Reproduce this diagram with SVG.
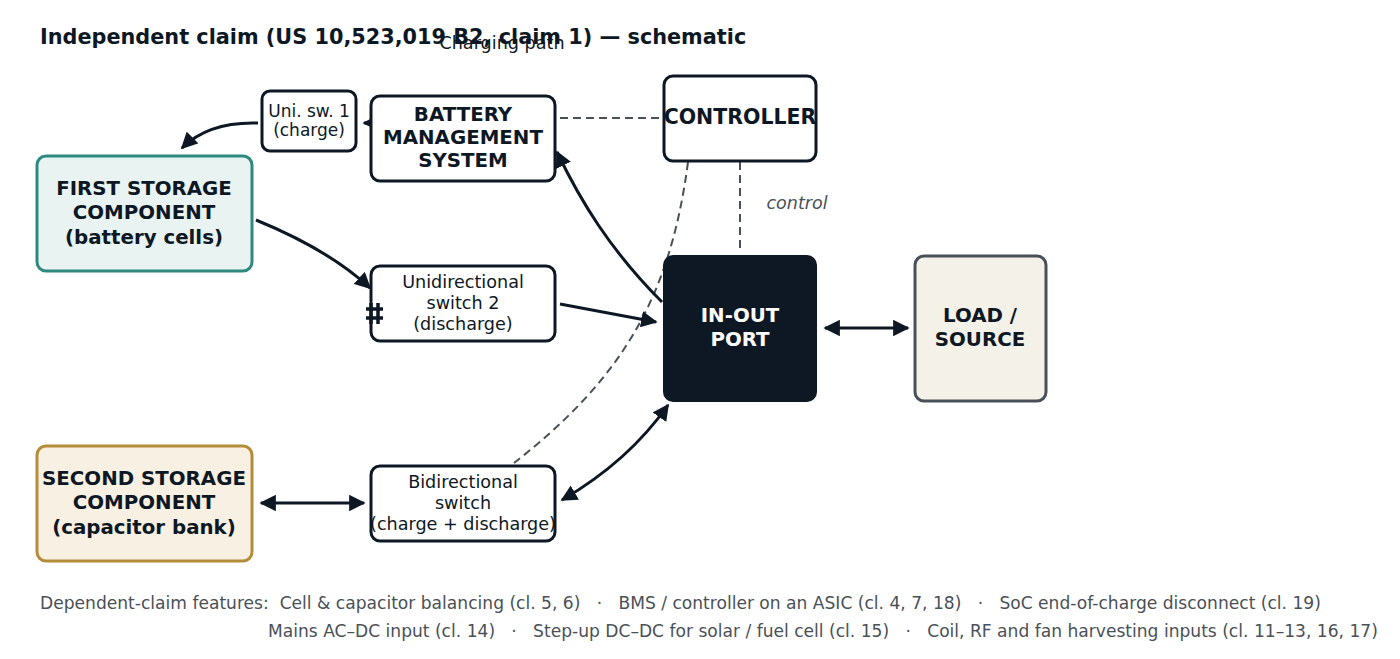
<svg xmlns="http://www.w3.org/2000/svg" width="1400" height="659" viewBox="0 0 1400 659">
<style>
text{font-family:"DejaVu Sans","Noto Sans",sans-serif;fill:#0d1824;text-anchor:middle;white-space:pre}
.b{font-weight:bold;font-size:19.8px}
.s{font-size:17.6px}
.box{fill:#fff;stroke:#0d1824;stroke-width:3}
.c{fill:none;stroke:#0d1824;stroke-width:3}
.d{fill:none;stroke:#4a5058;stroke-width:2;stroke-dasharray:8 5}
.f{font-size:17.1px;fill:#4a5058;text-anchor:start}
</style>
<defs>
<marker id="a" viewBox="0 0 10 10" refX="9" refY="5" markerWidth="5.5" markerHeight="5.5" orient="auto-start-reverse"><path d="M0,0L10,5L0,10z" fill="#0d1824"/></marker>
</defs>
<rect width="1400" height="659" fill="#fff"/>
<text x="40" y="44" style="text-anchor:start;font-weight:bold;font-size:20.8px">Independent claim (US 10,523,019 B2, claim 1) — schematic</text>
<text x="502" y="49" class="s">Charging path</text>
<g id="connectors">
<path class="d" d="M560,118H663"/>
<path class="d" d="M740,162V253"/>
<path class="d" d="M688,162C670,300 620,380 514,463"/>
<path class="c" d="M258,123C225,122 200,130 182,148" marker-end="url(#a)"/>
<path class="c" d="M371,123H364" marker-end="url(#a)"/>
<path class="c" d="M662,302C610,250 580,200 557,152" marker-end="url(#a)"/>
<path class="c" d="M256,220C300,238 340,260 370,288" marker-end="url(#a)"/>
<path class="c" d="M560,304L656,322" marker-end="url(#a)"/>
<path class="c" d="M668,405C640,445 605,475 562,500" marker-start="url(#a)" marker-end="url(#a)"/>
<path class="c" d="M261,503H364" marker-start="url(#a)" marker-end="url(#a)"/>
<path class="c" d="M825,328H908" marker-start="url(#a)" marker-end="url(#a)"/>
<text x="797" y="209" style="font-style:italic;font-size:17.5px;fill:#4a5058">control</text>
</g>
<g id="first"><rect x="37" y="156" width="215" height="115" rx="9" fill="#e9f3f2" stroke="#2e8a80" stroke-width="3"/>
<text class="b" x="144" y="195">FIRST STORAGE</text><text class="b" x="144" y="219">COMPONENT</text><text class="b" x="144" y="244">(battery cells)</text></g>
<g id="second"><rect x="37" y="446" width="215" height="115" rx="9" fill="#f8f0e2" stroke="#b58c3a" stroke-width="3"/>
<text class="b" x="144" y="485">SECOND STORAGE</text><text class="b" x="144" y="509">COMPONENT</text><text class="b" x="144" y="534">(capacitor bank)</text></g>
<g id="sw1"><rect class="box" x="262" y="91" width="94" height="60" rx="8"/>
<text class="s" x="309" y="117" style="font-size:17px">Uni. sw. 1</text><text class="s" x="309" y="136" style="font-size:17px">(charge)</text></g>
<g id="bms"><rect class="box" x="371" y="96" width="184" height="85" rx="9"/>
<text class="b" x="463" y="121">BATTERY</text><text class="b" x="463" y="144">MANAGEMENT</text><text class="b" x="463" y="167">SYSTEM</text></g>
<g id="ctrl"><rect class="box" x="664" y="76" width="152" height="85" rx="9"/>
<text class="b" x="740" y="124" style="font-size:20.5px">CONTROLLER</text></g>
<g id="sw2"><rect class="box" x="371" y="266" width="184" height="75" rx="9"/>
<text class="s" x="463" y="288">Unidirectional</text><text class="s" x="463" y="309">switch 2</text><text class="s" x="463" y="330">(discharge)</text>
<path d="M366,309H383M366,318H383M371,303V324M378,303V324" stroke="#0d1824" stroke-width="3.5"/></g>
<g id="bidir"><rect class="box" x="371" y="466" width="184" height="75" rx="9"/>
<text class="s" x="463" y="488">Bidirectional</text><text class="s" x="463" y="509">switch</text><text class="s" x="463" y="530">(charge + discharge)</text></g>
<g id="port"><rect x="663" y="255" width="154" height="147" rx="10" fill="#0d1824"/>
<text class="b" x="740" y="322" style="fill:#fff">IN-OUT</text><text class="b" x="740" y="346" style="fill:#fff">PORT</text></g>
<g id="load"><rect x="915" y="256" width="131" height="145" rx="9" fill="#f4f1e9" stroke="#4a5058" stroke-width="3"/>
<text class="b" x="980" y="322">LOAD /</text><text class="b" x="980" y="346">SOURCE</text></g>
<text class="f" x="40" y="609">Dependent-claim features:  Cell &amp; capacitor balancing (cl. 5, 6)   ·   BMS / controller on an ASIC (cl. 4, 7, 18)   ·   SoC end-of-charge disconnect (cl. 19)</text>
<text class="f" x="268" y="637">Mains AC–DC input (cl. 14)   ·   Step-up DC–DC for solar / fuel cell (cl. 15)   ·   Coil, RF and fan harvesting inputs (cl. 11–13, 16, 17)</text>
</svg>
